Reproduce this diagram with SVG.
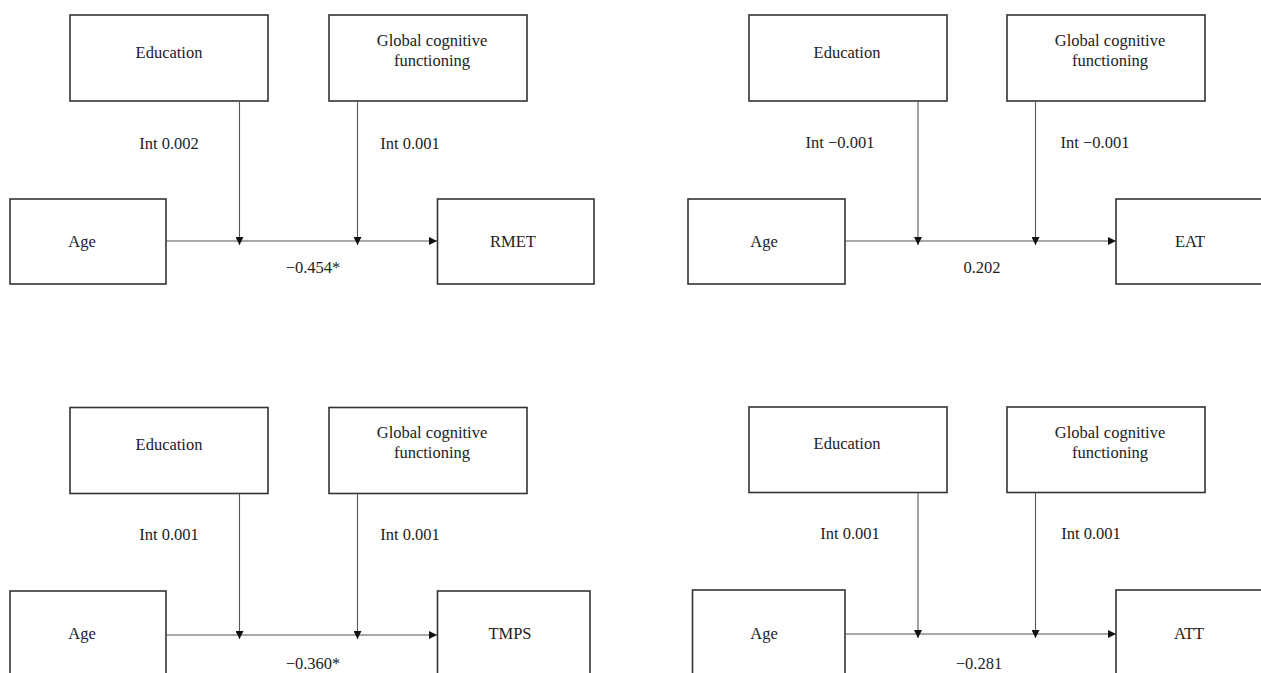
<svg xmlns="http://www.w3.org/2000/svg" width="1261" height="673" viewBox="0 0 1261 673">
<defs>
<marker id="arr" markerUnits="userSpaceOnUse" markerWidth="9" markerHeight="8" refX="8" refY="4" orient="auto">
<path d="M0,0 L8,4 L0,8 Z" fill="#111"/>
</marker>
<style>
.box{fill:#fff;stroke:#333;stroke-width:1.6}
.ln{fill:none;stroke:#555;stroke-width:1.1}
.t{font-family:"Liberation Serif","Times New Roman",serif;font-size:16.5px;fill:#222;text-anchor:middle}
</style>
</defs>
<rect width="1261" height="673" fill="#fff"/>

<!-- Panel 1 -->
<g id="p1-education"><rect class="box" x="70" y="15" width="198" height="86"/><text class="t" x="169" y="58">Education</text></g>
<g id="p1-global"><rect class="box" x="329" y="15" width="198" height="86"/><text class="t" x="432" y="46">Global cognitive</text><text class="t" x="432" y="66">functioning</text></g>
<g id="p1-age"><rect class="box" x="10" y="199" width="156" height="85"/><text class="t" x="82" y="247">Age</text></g>
<g id="p1-rmet"><rect class="box" x="437.5" y="199" width="156.5" height="85"/><text class="t" x="513" y="247">RMET</text></g>
<g id="p1-connectors">
<line class="ln" x1="166" y1="241" x2="437" y2="241" marker-end="url(#arr)"/>
<line class="ln" x1="239.5" y1="101" x2="239.5" y2="245" marker-end="url(#arr)"/>
<line class="ln" x1="357.5" y1="101" x2="357.5" y2="245" marker-end="url(#arr)"/>
<text class="t" x="169" y="149">Int 0.002</text>
<text class="t" x="410" y="149">Int 0.001</text>
<text class="t" x="313" y="273">−0.454*</text>
</g>

<!-- Panel 2 -->
<g id="p2-education"><rect class="box" x="749" y="15" width="198" height="86"/><text class="t" x="847" y="58">Education</text></g>
<g id="p2-global"><rect class="box" x="1007" y="15" width="198" height="86"/><text class="t" x="1110" y="46">Global cognitive</text><text class="t" x="1110" y="66">functioning</text></g>
<g id="p2-age"><rect class="box" x="688" y="199" width="157" height="85"/><text class="t" x="764" y="247">Age</text></g>
<g id="p2-eat"><rect class="box" x="1116" y="199" width="160" height="85"/><text class="t" x="1190" y="247">EAT</text></g>
<g id="p2-connectors">
<line class="ln" x1="845" y1="241" x2="1116" y2="241" marker-end="url(#arr)"/>
<line class="ln" x1="918" y1="101" x2="918" y2="245" marker-end="url(#arr)"/>
<line class="ln" x1="1035.5" y1="101" x2="1035.5" y2="245" marker-end="url(#arr)"/>
<text class="t" x="840" y="148">Int −0.001</text>
<text class="t" x="1095" y="148">Int −0.001</text>
<text class="t" x="982" y="273">0.202</text>
</g>

<!-- Panel 3 -->
<g id="p3-education"><rect class="box" x="70" y="407.5" width="198" height="86"/><text class="t" x="169" y="450">Education</text></g>
<g id="p3-global"><rect class="box" x="329" y="407.5" width="198" height="86"/><text class="t" x="432" y="438">Global cognitive</text><text class="t" x="432" y="458">functioning</text></g>
<g id="p3-age"><rect class="box" x="10" y="591" width="156" height="100"/><text class="t" x="82" y="639">Age</text></g>
<g id="p3-tmps"><rect class="box" x="437.5" y="591" width="152.5" height="100"/><text class="t" x="510" y="639">TMPS</text></g>
<g id="p3-connectors">
<line class="ln" x1="166" y1="635" x2="437" y2="635" marker-end="url(#arr)"/>
<line class="ln" x1="239.5" y1="493.5" x2="239.5" y2="639" marker-end="url(#arr)"/>
<line class="ln" x1="357.5" y1="493.5" x2="357.5" y2="639" marker-end="url(#arr)"/>
<text class="t" x="169" y="540">Int 0.001</text>
<text class="t" x="410" y="540">Int 0.001</text>
<text class="t" x="313" y="669">−0.360*</text>
</g>

<!-- Panel 4 -->
<g id="p4-education"><rect class="box" x="749" y="407" width="198" height="85.5"/><text class="t" x="847" y="449">Education</text></g>
<g id="p4-global"><rect class="box" x="1007" y="407" width="198" height="85.5"/><text class="t" x="1110" y="438">Global cognitive</text><text class="t" x="1110" y="458">functioning</text></g>
<g id="p4-age"><rect class="box" x="692.5" y="590" width="152.5" height="100"/><text class="t" x="764" y="639">Age</text></g>
<g id="p4-att"><rect class="box" x="1116" y="590" width="160" height="100"/><text class="t" x="1189" y="639">ATT</text></g>
<g id="p4-connectors">
<line class="ln" x1="845" y1="634" x2="1116" y2="634" marker-end="url(#arr)"/>
<line class="ln" x1="918" y1="492.5" x2="918" y2="638" marker-end="url(#arr)"/>
<line class="ln" x1="1035.5" y1="492.5" x2="1035.5" y2="638" marker-end="url(#arr)"/>
<text class="t" x="850" y="539">Int 0.001</text>
<text class="t" x="1091" y="539">Int 0.001</text>
<text class="t" x="979" y="669">−0.281</text>
</g>
</svg>
